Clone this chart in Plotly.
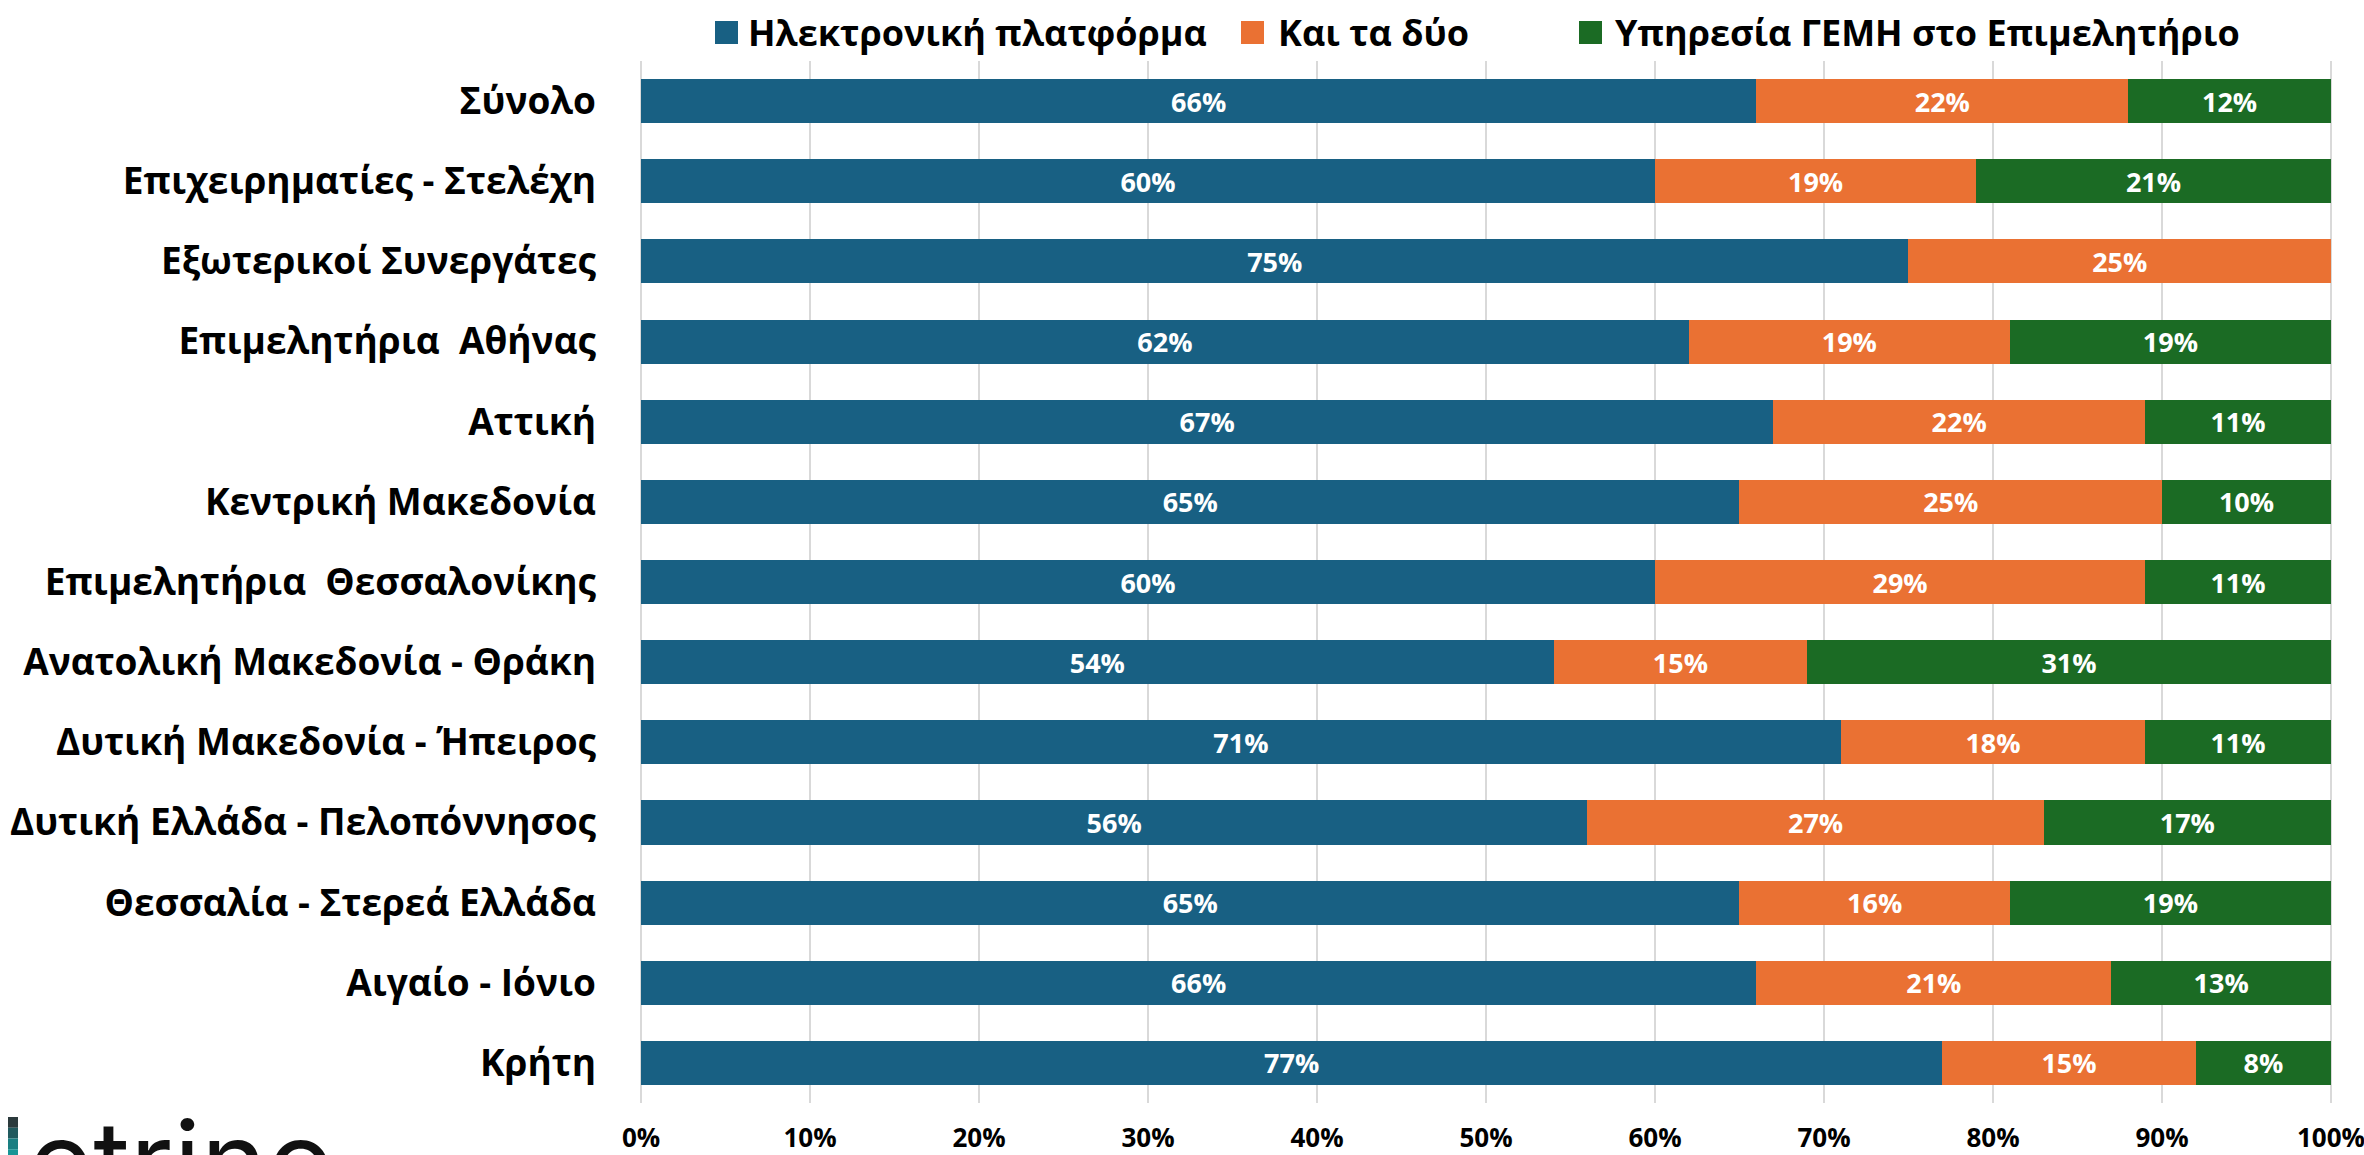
import plotly.graph_objects as go

# Survey breakdown by group / region (percent of respondents)
categories = [
    "Σύνολο",
    "Επιχειρηματίες - Στελέχη",
    "Εξωτερικοί Συνεργάτες",
    "Επιμελητήρια  Αθήνας",
    "Αττική",
    "Κεντρική Μακεδονία",
    "Επιμελητήρια  Θεσσαλονίκης",
    "Ανατολική Μακεδονία - Θράκη",
    "Δυτική Μακεδονία - Ήπειρος",
    "Δυτική Ελλάδα - Πελοπόννησος",
    "Θεσσαλία - Στερεά Ελλάδα",
    "Αιγαίο - Ιόνιο",
    "Κρήτη",
]
series_names = ["Ηλεκτρονική πλατφόρμα", "Και τα δύο", "Υπηρεσία ΓΕΜΗ στο Επιμελητήριο"]
platform = [66, 60, 75, 62, 67, 65, 60, 54, 71, 56, 65, 66, 77]
both = [22, 19, 25, 19, 22, 25, 29, 15, 18, 27, 16, 21, 15]
gemi = [12, 21, 0, 19, 11, 10, 11, 31, 11, 17, 19, 13, 8]
tick_values = [0, 10, 20, 30, 40, 50, 60, 70, 80, 90, 100]
tick_labels = [f"{v}%" for v in tick_values]

colors = ["#186083", "#EA7133", "#1B6B24"]
FONT = "Open Sans"

W, H = 2364, 1155
M_L, M_R, M_T, M_B = 639, 31, 61, 52
PW, PH = W - M_L - M_R, H - M_T - M_B


def px(x):
    return (x - M_L) / PW


def py(y):
    return (H - M_B - y) / PH


fig = go.Figure()
for name, vals, col in zip(series_names, [platform, both, gemi], colors):
    fig.add_trace(go.Bar(
        y=categories, x=vals, name=name, orientation="h",
        marker=dict(color=col, line=dict(width=0)),
        text=[f"{v}%" if v > 0 else "" for v in vals],
        textposition="inside", insidetextanchor="middle",
        textfont=dict(color="white", size=27, family=FONT, weight="bold"),
        textangle=0, showlegend=False,
    ))

# Legend row drawn as coloured squares with labels
legend_sq = [715, 1241, 1579]
legend_txt = [746, 1276, 1613]
shapes = []
annotations = []
for name, col, sx, tx in zip(series_names, colors, legend_sq, legend_txt):
    shapes.append(dict(type="rect", xref="paper", yref="paper",
                       x0=px(sx), x1=px(sx + 23), y0=py(44), y1=py(21),
                       fillcolor=col, line=dict(width=0)))
    annotations.append(dict(text=name, xref="paper", yref="paper",
                            x=px(tx), y=py(32), xanchor="left", yanchor="middle",
                            showarrow=False,
                            font=dict(family=FONT, size=36, color="#000", weight="bold")))

# Brand mark in the lower-left corner
grad = ["#2b3a3c", "#215a5e", "#1a7f82", "#179596"]
seg = (1160 - 1117) / len(grad)
for i, c in enumerate(grad):
    shapes.append(dict(type="rect", xref="paper", yref="paper",
                       x0=px(8), x1=px(18), y0=py(1117 + (i + 1) * seg), y1=py(1117 + i * seg),
                       fillcolor=c, line=dict(width=0), layer="above"))
annotations.append(dict(text="etrino", xref="paper", yref="paper",
                        x=px(26), y=py(1091), xanchor="left", yanchor="top",
                        showarrow=False,
                        font=dict(family="Inter", size=112, color="#111")))

fig.update_layout(
    width=W, height=H,
    margin=dict(l=M_L, r=M_R, t=M_T, b=M_B, pad=0, autoexpand=False),
    barmode="stack", bargap=0.45,
    paper_bgcolor="white", plot_bgcolor="white",
    shapes=shapes, annotations=annotations,
    font=dict(family=FONT, color="#000"),
    xaxis=dict(range=[-0.12, 100.12], tickvals=tick_values, ticktext=tick_labels,
               showgrid=True, gridcolor="#d9d9d9", gridwidth=2,
               zeroline=False, showline=False, ticks="", automargin=False,
               tickfont=dict(family=FONT, size=26, color="#000", weight="bold"),
               ticklabelstandoff=17, ticklabeloverflow="allow", fixedrange=True),
    yaxis=dict(autorange="reversed", showgrid=False, zeroline=False, showline=False,
               ticks="", ticklabelstandoff=42, automargin=False,
               tickfont=dict(family=FONT, size=37, color="#000", weight="bold")),
    showlegend=False,
)

fig.write_html("out.html")
